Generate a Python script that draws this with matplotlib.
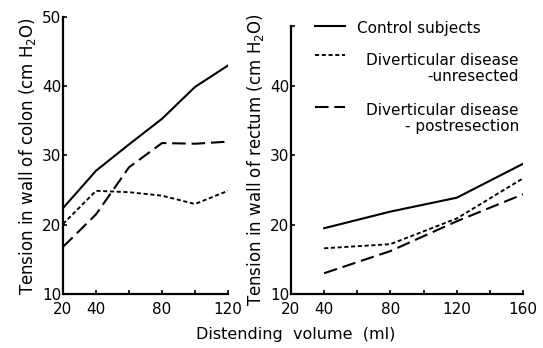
import matplotlib
matplotlib.use("Agg")
import matplotlib.pyplot as plt

# Colon (left panel)
colon_x = [20, 40, 60, 80, 100, 120]
colon_control = [22.4, 27.8, 31.6, 35.3, 39.9, 43.0]
colon_unresected = [20.1, 24.9, 24.7, 24.2, 23.0, 24.9]
colon_postres = [16.8, 21.5, 28.3, 31.8, 31.7, 32.0]

# Rectum (right panel)
rect_x = [40, 80, 120, 160]
rect_control = [19.5, 21.9, 23.9, 28.8]
rect_unresected = [16.6, 17.2, 20.9, 26.7]
rect_postres = [13.0, 16.2, 20.5, 24.4]

left_xticks = [20, 40, 60, 80, 100, 120]
left_xlabels = ["20", "40", "", "80", "", "120"]
right_xticks = [20, 40, 60, 80, 100, 120, 140, 160]
right_xlabels = ["20", "40", "", "80", "", "120", "", "160"]

plt.rcParams['font.family'] = ['DejaVu Sans']
W, H = 543, 348
fig = plt.figure(figsize=(W/100, H/100), dpi=100)

def px_axes(x0, x1, ytop, ybot):
    return fig.add_axes([x0/W, (H-ybot)/H, (x1-x0)/W, (ybot-ytop)/H])

ax1 = px_axes(63, 228, 17, 294)
ax2 = px_axes(291, 523, 26, 294)

lw = 1.5
styles = dict(
    control=dict(color='black', lw=lw, linestyle='-'),
    unres=dict(color='black', lw=lw * 0.9, linestyle=(0, (2.2, 1.4))),
    post=dict(color='black', lw=lw, linestyle=(0, (6.5, 2.8))),
)

ax1.plot(colon_x, colon_control, **styles['control'])
ax1.plot(colon_x, colon_unresected, **styles['unres'])
ax1.plot(colon_x, colon_postres, **styles['post'])

ax2.plot(rect_x, rect_control, **styles['control'])
ax2.plot(rect_x, rect_unresected, **styles['unres'])
ax2.plot(rect_x, rect_postres, **styles['post'])

ax1.set_xlim(20, 120)
ax1.set_ylim(10, 50)
ax2.set_xlim(20, 160)
ax2.set_ylim(10, 48.7)

fs = 11
for ax in (ax1, ax2):
    ax.spines['top'].set_visible(False)
    ax.spines['right'].set_visible(False)
    ax.spines['left'].set_linewidth(1.6)
    ax.spines['bottom'].set_linewidth(1.6)
    ax.tick_params(direction='in', length=3, width=1.2, labelsize=fs)
    ax.tick_params(axis='y', pad=1)
    ax.tick_params(axis='x', pad=6)
    ax.patch.set_alpha(0)

ax1.set_xticks(left_xticks, left_xlabels)
ax1.set_yticks([10, 20, 30, 40, 50])
ax2.set_xticks(right_xticks, right_xlabels)
ax2.set_yticks([10, 20, 30, 40, 48.7], ["10", "20", "30", "40", ""])

ax1.set_ylabel("Tension in wall of colon (cm H$_2$O)", fontsize=12, labelpad=3)
ax2.set_ylabel("Tension in wall of rectum (cm H$_2$O)", fontsize=12, labelpad=3)

fig.text(296/W, (H-335)/H, "Distending  volume  (ml)", ha='center', va='center', fontsize=11.5)

# Legend drawn manually in right axes
def fx(px):
    return (px - 291) / 232
def fy(py):
    return (294 - py) / 268

items = [
    (styles['control'], 26, "Control subjects", 28, 'left'),
    (styles['unres'], 55, "Diverticular disease\n-unresected", 68.5, 'right'),
    (styles['post'], 107, "Diverticular disease\n- postresection", 118.5, 'right'),
]
for st, ly, label, ty, al in items:
    ax2.plot([fx(315), fx(345)], [fy(ly), fy(ly)], transform=ax2.transAxes,
             clip_on=False, **st)
    if al == 'left':
        ax2.text(fx(357), fy(ty), label, transform=ax2.transAxes, ha='left',
                 va='center', fontsize=fs)
    else:
        ax2.text(fx(519), fy(ty), label, transform=ax2.transAxes, ha='right',
                 va='center', fontsize=fs, multialignment='right', linespacing=1.15)

fig.savefig("out.png", dpi=100)
